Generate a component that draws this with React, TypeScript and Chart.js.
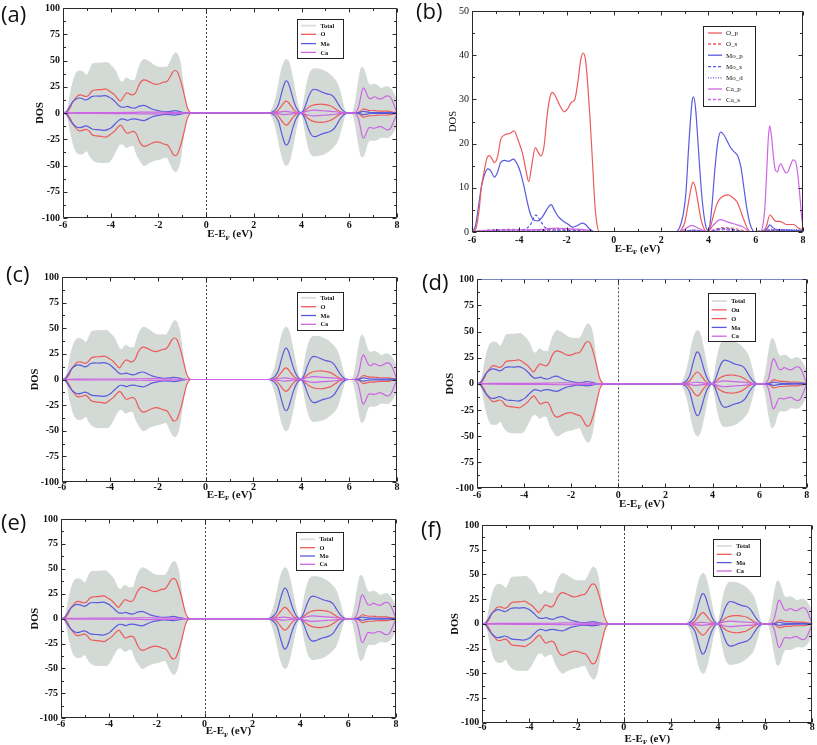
import React, { useEffect, useRef } from 'react';
import { Chart, registerables } from 'chart.js';

Chart.register(...registerables);

type P = [number, number][];

// ---------- axis ticks ----------
const X_TICKS = [-6, -4, -2, 0, 2, 4, 6, 8];
const DOS_Y_TICKS = [-100, -75, -50, -25, 0, 25, 50, 75, 100];
const PDOS_Y_TICKS = [0, 10, 20, 30, 40, 50];

// ---------- DOS panels (a, c, d, e, f) ----------
const TOTAL_UP: P = [[-6,0],[-5.88,0],[-5.8,4],[-5.65,23],[-5.47,37],[-5.3,40],[-5.15,39],[-5.0,36],[-4.88,41],[-4.75,47],[-4.45,47.5],[-4.15,48],[-3.98,45],[-3.8,40],[-3.62,31],[-3.5,29.5],[-3.34,33.5],[-3.15,31],[-3.0,31],[-2.85,41],[-2.75,47],[-2.6,51],[-2.36,48.5],[-2.15,45],[-1.95,43.5],[-1.66,43.5],[-1.5,49],[-1.38,55],[-1.28,57.5],[-1.18,55],[-1.08,46.7],[-0.96,26],[-0.85,8],[-0.72,1],[-0.62,0],
[2.6,0],[2.75,3],[2.95,17],[3.15,40],[3.3,50],[3.38,51],[3.5,46],[3.65,30],[3.8,12],[3.92,2],[3.97,0],[4.05,5],[4.2,25],[4.35,38],[4.5,42],[4.7,42],[4.95,40],[5.15,37.5],[5.35,33],[5.5,28],[5.65,17],[5.78,5],[5.86,0],[6.1,0],[6.25,10],[6.4,32],[6.53,43.5],[6.62,41],[6.75,31],[6.88,26.5],[7.05,27.5],[7.2,26],[7.35,23.5],[7.55,25],[7.7,24],[7.85,19],[8,12]];
const TOTAL_DN: P = [[-6,0],[-5.88,0],[-5.8,-4],[-5.65,-22],[-5.47,-36],[-5.3,-39],[-5.15,-38.5],[-5.0,-36],[-4.88,-41],[-4.74,-45],[-4.46,-47],[-4.1,-47],[-3.98,-44.5],[-3.83,-38],[-3.62,-30],[-3.5,-29.5],[-3.34,-33],[-3.15,-31],[-3.06,-31],[-2.9,-40],[-2.78,-45],[-2.6,-50],[-2.36,-47],[-2.15,-45],[-1.94,-44],[-1.66,-42],[-1.49,-49],[-1.38,-54],[-1.28,-56],[-1.18,-53],[-1.08,-44],[-0.96,-24],[-0.85,-8],[-0.72,-1],[-0.62,0],
[2.6,0],[2.75,-3],[2.95,-17],[3.15,-39],[3.3,-49],[3.38,-50],[3.5,-45],[3.65,-30],[3.8,-12],[3.92,-2],[3.97,0],[4.05,-5],[4.2,-24],[4.35,-37],[4.5,-41],[4.7,-40.5],[4.95,-39],[5.15,-36],[5.35,-32],[5.5,-27],[5.65,-16],[5.78,-5],[5.86,0],[6.1,0],[6.25,-10],[6.4,-31],[6.53,-42],[6.62,-40],[6.75,-30],[6.88,-26],[7.05,-26],[7.2,-25],[7.35,-23],[7.55,-23.5],[7.7,-22.5],[7.85,-18],[8,-11]];

const O_P: P = [[-6,0],[-5.85,0.5],[-5.7,5],[-5.6,10.3],[-5.5,13.3],[-5.38,16.5],[-5.28,17.3],[-5.18,16.8],[-5.05,15.7],[-4.92,17],[-4.78,21],[-4.6,22],[-4.4,22.3],[-4.22,22.9],[-4.05,20.8],[-3.85,17.5],[-3.72,14],[-3.6,11.4],[-3.47,15.2],[-3.32,19.1],[-3.2,18],[-3.08,17.2],[-2.95,19.5],[-2.82,26.5],[-2.7,30.5],[-2.6,31.6],[-2.45,30.5],[-2.3,28.8],[-2.1,27.2],[-1.95,27.9],[-1.8,29.3],[-1.65,30],[-1.52,34],[-1.4,39],[-1.3,40.5],[-1.2,39],[-1.1,33],[-1.0,25],[-0.9,15.5],[-0.8,6],[-0.7,1.3],[-0.6,0],
[2.7,0],[2.85,0.5],[3.0,2.2],[3.15,6.5],[3.27,10],[3.35,11.3],[3.45,10],[3.55,7],[3.7,2.5],[3.85,0.4],[3.95,0],[4.05,0.5],[4.2,3.5],[4.35,6.2],[4.5,7.6],[4.7,8.3],[4.85,8.4],[5.0,7.9],[5.2,6.9],[5.35,5],[5.5,2.7],[5.65,0.8],[5.8,0],[6.25,0],[6.45,1.3],[6.6,3.9],[6.72,3.2],[6.85,2.4],[7.0,2.4],[7.15,2.1],[7.3,1.7],[7.6,1.7],[7.8,0.9],[8,0.5]];
const O_DN: P = [[-6,0],[-5.85,-0.5],[-5.7,-5],[-5.6,-10],[-5.5,-13],[-5.38,-16.3],[-5.28,-17],[-5.18,-16.6],[-5.05,-15.5],[-4.92,-16.8],[-4.78,-20.8],[-4.6,-21.8],[-4.4,-22.3],[-4.22,-23],[-4.05,-21],[-3.85,-17.5],[-3.72,-14],[-3.58,-11.5],[-3.45,-15.5],[-3.3,-19.5],[-3.18,-18.3],[-3.05,-17.5],[-2.92,-20],[-2.8,-27],[-2.68,-31],[-2.58,-31.8],[-2.43,-30.5],[-2.28,-28.8],[-2.05,-27.5],[-1.9,-28.3],[-1.75,-29.8],[-1.62,-30.5],[-1.5,-34.5],[-1.38,-39.5],[-1.3,-40.5],[-1.2,-39],[-1.1,-33],[-1.0,-25],[-0.9,-15.5],[-0.8,-6],[-0.7,-1.3],[-0.6,0],
[2.7,0],[2.85,-0.5],[3.0,-2.3],[3.15,-6.8],[3.27,-10.3],[3.35,-11.5],[3.45,-10.2],[3.55,-7],[3.7,-2.5],[3.85,-0.4],[3.95,0],[4.05,-0.5],[4.2,-3.7],[4.35,-6.5],[4.5,-8],[4.7,-8.8],[4.85,-9],[5.0,-8.4],[5.2,-7.2],[5.35,-5.2],[5.5,-2.8],[5.65,-0.8],[5.8,0],[6.25,0],[6.45,-1.4],[6.6,-4],[6.72,-3.3],[6.85,-2.6],[7.0,-2.6],[7.15,-2.2],[7.3,-1.9],[7.6,-1.9],[7.8,-1],[8,-0.5]];

const MO_UP: P = [[-6,0],[-5.85,1.5],[-5.72,6],[-5.6,10.3],[-5.45,13.3],[-5.33,14.3],[-5.2,13.8],[-5.05,12.4],[-4.92,13.5],[-4.8,15.6],[-4.62,16.2],[-4.45,16],[-4.25,16.5],[-4.08,15.3],[-3.95,13.5],[-3.8,10.3],[-3.65,6.8],[-3.55,5.5],[-3.42,5.6],[-3.3,6.3],[-3.15,5],[-3.0,4.6],[-2.8,6.5],[-2.62,7.3],[-2.45,5.8],[-2.25,3.6],[-2.0,2.2],[-1.75,1.2],[-1.5,1.5],[-1.32,2.2],[-1.15,1.6],[-1.0,0.7],[-0.85,0.1],[-0.75,0],
[2.6,0],[2.78,1],[2.95,4.5],[3.05,9],[3.15,18],[3.25,26],[3.32,30],[3.37,30.6],[3.45,28.3],[3.55,21],[3.65,13],[3.75,6.5],[3.87,1.8],[3.97,0.4],[4.05,1.2],[4.15,6],[4.27,14],[4.4,20.5],[4.52,22.6],[4.65,22],[4.8,20.5],[4.95,19],[5.08,18.2],[5.25,17.1],[5.38,14.5],[5.5,10],[5.62,5.5],[5.75,2],[5.88,0.3],[6.0,0],[6.3,0],[6.48,0.8],[6.6,1.6],[6.72,1],[6.9,0.5],[7.5,0.4],[8,0.3]];
const MO_DN: P = [[-6,0],[-5.85,-1.5],[-5.72,-6],[-5.6,-10],[-5.45,-13],[-5.33,-14],[-5.2,-13.5],[-5.05,-12.3],[-4.92,-13.3],[-4.8,-15],[-4.62,-15.8],[-4.45,-16],[-4.25,-16.5],[-4.08,-15.3],[-3.95,-13.5],[-3.8,-10],[-3.65,-6.8],[-3.55,-5.6],[-3.42,-6],[-3.3,-7],[-3.15,-5.8],[-3.0,-5.5],[-2.8,-6.5],[-2.62,-7.2],[-2.45,-5.8],[-2.25,-3.6],[-2.0,-2.3],[-1.75,-1.3],[-1.5,-1.5],[-1.32,-2],[-1.15,-1.5],[-1.0,-0.7],[-0.85,-0.1],[-0.75,0],
[2.6,0],[2.78,-1],[2.95,-4.5],[3.05,-9],[3.15,-18],[3.25,-26],[3.32,-30],[3.37,-30.5],[3.45,-28.3],[3.55,-21],[3.65,-13],[3.75,-6.5],[3.87,-1.8],[3.97,-0.4],[4.05,-1.2],[4.15,-6],[4.27,-14],[4.4,-20.5],[4.52,-22.5],[4.65,-22],[4.8,-20.5],[4.95,-19.2],[5.08,-18.5],[5.25,-17],[5.38,-14.5],[5.5,-10],[5.62,-5.5],[5.75,-2],[5.88,-0.3],[6.0,0],[6.3,0],[6.48,-0.8],[6.6,-1.6],[6.72,-1],[6.9,-0.5],[7.5,-0.4],[8,-0.3]];

const CA_P: P = [[-6,0],[-5.75,0.2],[-5.3,0.4],[-4.5,0.5],[-3.8,0.5],[-3.0,0.6],[-2.4,0.9],[-1.8,0.7],[-1.2,0.5],[-0.8,0],
[2.7,0],[3.0,0.6],[3.3,1.5],[3.6,0.8],[3.95,0],[4.2,1.5],[4.5,2.8],[4.8,2.3],[5.1,1.8],[5.45,1.2],[5.8,0],[6.2,0],[6.3,1.5],[6.38,5],[6.46,13],[6.53,21],[6.59,24],[6.66,22],[6.75,17],[6.83,14],[6.92,13.6],[7.0,15],[7.06,15.5],[7.15,14.6],[7.25,13.5],[7.33,13.4],[7.45,14.8],[7.58,16.3],[7.68,16],[7.78,13],[7.87,8],[7.95,3],[8,1.3]];
const CA_DN: P = [[-6,0],[-5.75,-0.2],[-5.3,-0.4],[-4.5,-0.5],[-3.8,-0.5],[-3.0,-0.6],[-2.4,-0.9],[-1.8,-0.7],[-1.2,-0.5],[-0.8,0],
[2.7,0],[3.0,-0.6],[3.3,-1.5],[3.6,-0.8],[3.95,0],[4.2,-1.5],[4.5,-2.8],[4.8,-2.3],[5.1,-1.8],[5.45,-1.2],[5.8,0],[6.2,0],[6.3,-1.5],[6.38,-5],[6.46,-13],[6.53,-21],[6.59,-24],[6.66,-22],[6.75,-17],[6.83,-14],[6.92,-14],[7.0,-14.5],[7.06,-14.5],[7.15,-13.8],[7.25,-13],[7.33,-13],[7.45,-14.5],[7.58,-16],[7.68,-15.6],[7.78,-12.5],[7.87,-7.5],[7.95,-3],[8,-1.3]];

// ---------- PDOS panel (b) ----------
const O_S: P = [[-6,0],[-5.6,0.3],[-5.0,0.5],[-4.3,0.6],[-3.5,0.4],[-3.0,0.5],[-2.5,0.8],[-2.0,0.6],[-1.3,0.5],[-0.8,0],[2.7,0],[3.35,0.3],[3.9,0],[4.6,1.0],[5.2,0.7],[5.8,0],[6.5,0.3],[8,0.2]];
const MO_P: P = [[-6,0],[-5.85,1.5],[-5.72,6],[-5.6,10.3],[-5.45,13.3],[-5.33,14.3],[-5.2,13.8],[-5.05,12.4],[-4.92,13.5],[-4.8,15.6],[-4.62,16.2],[-4.45,16],[-4.25,16.5],[-4.08,15.3],[-3.95,13.5],[-3.8,10.3],[-3.65,6.5],[-3.5,3.6],[-3.35,2.6],[-3.2,2.5],[-3.05,3.2],[-2.9,4.5],[-2.75,5.8],[-2.65,6.2],[-2.52,5],[-2.35,3.5],[-2.15,2.5],[-1.95,1.8],[-1.75,1.1],[-1.55,1.4],[-1.35,2],[-1.2,1.7],[-1.05,0.8],[-0.9,0.2],[-0.8,0],
[2.6,0],[2.78,1],[2.95,4.5],[3.05,9],[3.15,18],[3.25,26],[3.32,30],[3.37,30.6],[3.45,28.3],[3.55,21],[3.65,13],[3.75,6.5],[3.87,1.8],[3.97,0.4],[4.05,1.2],[4.15,6],[4.27,14],[4.4,20.5],[4.52,22.6],[4.65,22],[4.8,20.5],[4.95,19],[5.08,18.2],[5.25,17.1],[5.38,14.5],[5.5,10],[5.62,5.5],[5.75,2],[5.88,0.3],[6.0,0],[6.3,0],[6.48,0.8],[6.6,1.6],[6.72,1],[6.9,0.5],[7.5,0.4],[8,0.3]];
const MO_S: P = [[-6,0],[-5.5,0.3],[-4.5,0.5],[-3.8,0.6],[-3.55,1.5],[-3.3,3.8],[-3.1,2.5],[-2.9,1],[-2.5,0.5],[-1.5,0.3],[-0.8,0],[2.7,0],[3.4,0.4],[4.0,0],[4.6,0.8],[5.8,0],[6.6,0.3],[8,0.2]];
const MO_D: P = [[-6,0],[-5,0.3],[-3,0.3],[-0.8,0],[2.7,0],[3.4,0.5],[4,0],[4.6,0.6],[5.8,0],[6.6,0.6],[8,0.5]];
const CA_S: P = [[-6,0],[-5,0.4],[-4.5,0.5],[-3,0.3],[-2,0.6],[-0.8,0],[2.7,0],[4.5,0.5],[5.8,0],[6.6,0.5],[8,0.3]];

// ---------- styles ----------
const RED = '#ee5a5a';
const BLUE = '#5a5ade';
const MAG = '#cc66e4';
const GREY = '#d3d9d4';
const SERIF = '"Liberation Serif", "Times New Roman", serif';

type LegItem = { label: string; color: string; dash?: number[]; w?: number };
const DOS_LEG: LegItem[] = [
  { label: 'Total', color: '#dde2de', w: 2 },
  { label: 'O', color: RED },
  { label: 'Mo', color: BLUE },
  { label: 'Ca', color: MAG },
];
const D_LEG: LegItem[] = [
  { label: 'Total', color: '#dde2de', w: 2 },
  { label: 'Ou', color: RED },
  { label: 'O', color: RED },
  { label: 'Mo', color: BLUE },
  { label: 'Ca', color: MAG },
];
const B_LEG: LegItem[] = [
  { label: 'O_p', color: RED },
  { label: 'O_s', color: RED, dash: [3, 2] },
  { label: 'Mo_p', color: BLUE },
  { label: 'Mo_s', color: BLUE, dash: [3, 2] },
  { label: 'Mo_d', color: BLUE, dash: [1, 1.5] },
  { label: 'Ca_p', color: MAG },
  { label: 'Ca_s', color: MAG, dash: [3, 2] },
];

const toXY = (p: P) => p.map(([x, y]) => ({ x, y }));

function line(data: P, color: string, order: number, dash?: number[]) {
  return {
    data: toXY(data),
    borderColor: color,
    borderWidth: 1.2,
    borderDash: dash || [],
    fill: false,
    pointRadius: 0,
    cubicInterpolationMode: 'monotone',
    order,
  };
}
function area(data: P) {
  return {
    data: toXY(data),
    borderColor: GREY,
    backgroundColor: GREY,
    borderWidth: 1,
    fill: 'origin',
    pointRadius: 0,
    cubicInterpolationMode: 'monotone',
    order: 10,
  };
}

function dosDatasets() {
  return [
    area(TOTAL_UP), area(TOTAL_DN),
    line(O_P, RED, 3), line(O_DN, RED, 3),
    line(MO_UP, BLUE, 2), line(MO_DN, BLUE, 2),
    line(CA_P, MAG, 1), line(CA_DN, MAG, 1),
  ];
}
function pdosDatasets() {
  return [
    line(O_S, RED, 6, [3, 2]),
    line(MO_S, BLUE, 5, [3, 2]),
    line(MO_D, BLUE, 5, [1, 1.5]),
    line(CA_S, MAG, 5, [3, 2]),
    line(MO_P, BLUE, 3),
    line(O_P, RED, 2),
    line(CA_P, MAG, 1),
  ];
}

type PanelCfg = {
  key: string; label: string; labelPos: [number, number];
  canvas: [number, number, number, number]; area: [number, number, number, number];
  kind: 'dos' | 'pdos'; xPad: number; xTitleY: number; yTitleX: number;
  legend: { box: [number, number, number, number]; rows: number[]; items: LegItem[]; s0: number; s1: number; tx: number; font: string };
  topColor?: string;
};

const LF = `bold 6.3px ${SERIF}`;
const PANELS: PanelCfg[] = [
  { key: 'a', label: '(a)', labelPos: [1, 2], canvas: [25, 0, 380, 245], area: [63, 5, 397, 218], kind: 'dos', xPad: 2, xTitleY: 233.5, yTitleX: 40,
    legend: { box: [297, 19, 46, 38.5], rows: [25.7, 34.3, 43.6, 52.4], items: DOS_LEG, s0: 4, s1: 19, tx: 23.5, font: LF } },
  { key: 'b', label: '(b)', labelPos: [416, -1], canvas: [430, 0, 387, 255], area: [472, 11, 803, 232], kind: 'pdos', xPad: 3, xTitleY: 248, yTitleX: 453,
    legend: { box: [703, 26, 52, 80], rows: [33, 44, 55.2, 66.6, 77.8, 89, 99.5], items: B_LEG, s0: 5, s1: 19, tx: 23, font: `7px ${SERIF}` } },
  { key: 'c', label: '(c)', labelPos: [6, 262], canvas: [25, 262, 380, 240], area: [62, 277, 397, 482], kind: 'dos', xPad: 0.6, xTitleY: 494.3, yTitleX: 35,
    legend: { box: [297, 291.7, 46, 37.5], rows: [297.9, 306.7, 315.5, 324.3], items: DOS_LEG, s0: 4, s1: 19, tx: 23.5, font: LF } },
  { key: 'd', label: '(d)', labelPos: [422, 270], canvas: [435, 262, 382, 248], area: [477, 279.3, 806.7, 488.3], kind: 'dos', xPad: 1.7, xTitleY: 503.3, yTitleX: 450,
    legend: { box: [707.7, 293.3, 46.6, 48.4], rows: [301, 309.8, 318.6, 327.4, 336.2], items: D_LEG, s0: 4, s1: 19, tx: 23.5, font: LF }, topColor: '#7b86c8' },
  { key: 'e', label: '(e)', labelPos: [1, 510], canvas: [25, 505, 380, 240], area: [61, 519, 396, 718.3], kind: 'dos', xPad: 0.7, xTitleY: 730.7, yTitleX: 35,
    legend: { box: [296, 532.3, 46.7, 37.7], rows: [539.3, 547.7, 556, 564.3], items: DOS_LEG, s0: 4, s1: 19, tx: 23.5, font: LF } },
  { key: 'f', label: '(f)', labelPos: [421, 517], canvas: [435, 508, 382, 237], area: [482.3, 525, 812.3, 722.7], kind: 'dos', xPad: 0, xTitleY: 738, yTitleX: 455,
    legend: { box: [712.7, 539, 46.6, 37], rows: [546, 554.3, 562.6, 571], items: DOS_LEG, s0: 4, s1: 19, tx: 23.5, font: LF } },
];

function drawXTitle(ctx: CanvasRenderingContext2D, cx: number, cy: number, size: number) {
  const big = `bold ${size}px ${SERIF}`;
  const small = `bold ${Math.round(size * 0.65)}px ${SERIF}`;
  ctx.font = big;
  const w1 = ctx.measureText('E-E').width;
  const w3 = ctx.measureText(' (eV)').width;
  ctx.font = small;
  const w2 = ctx.measureText('F').width;
  let x = cx - (w1 + w2 + w3) / 2;
  const base = cy + size * 0.33;
  ctx.textAlign = 'left';
  ctx.textBaseline = 'alphabetic';
  ctx.fillStyle = '#111';
  ctx.font = big; ctx.fillText('E-E', x, base); x += w1;
  ctx.font = small; ctx.fillText('F', x, base + size * 0.22); x += w2;
  ctx.font = big; ctx.fillText(' (eV)', x, base);
}

function decorPlugin(p: PanelCfg, yTicks: number[]) {
  const ox = p.canvas[0], oy = p.canvas[1];
  return {
    id: 'decor' + p.key,
    beforeDatasetsDraw(chart: any) {
      if (p.kind !== 'dos') return;
      const { ctx, chartArea: a, scales } = chart;
      const x0 = Math.round(scales.x.getPixelForValue(0)) + 0.5;
      ctx.save();
      ctx.strokeStyle = '#444';
      ctx.lineWidth = 1;
      ctx.setLineDash([2, 2]);
      ctx.beginPath(); ctx.moveTo(x0, a.top); ctx.lineTo(x0, a.bottom); ctx.stroke();
      ctx.restore();
    },
    afterDatasetsDraw(chart: any) {
      const { ctx, chartArea: a, scales } = chart;
      const xs = scales.x, ys = scales.y;
      const L = Math.round(a.left) + 0.5, R = Math.round(a.right) - 0.5;
      const T = Math.round(a.top) + 0.5, B = Math.round(a.bottom) - 0.5;
      ctx.save();
      ctx.lineWidth = 1;
      ctx.strokeStyle = '#2a2a2a';
      ctx.beginPath();
      ctx.moveTo(L, T); ctx.lineTo(L, B); ctx.lineTo(R, B); ctx.lineTo(R, T);
      ctx.stroke();
      ctx.strokeStyle = p.topColor || '#2a2a2a';
      ctx.beginPath(); ctx.moveTo(L, T); ctx.lineTo(R, T); ctx.stroke();
      ctx.strokeStyle = '#2a2a2a';
      const tick = (x1: number, y1: number, x2: number, y2: number) => { ctx.moveTo(x1, y1); ctx.lineTo(x2, y2); };
      ctx.beginPath();
      const xMaj = X_TICKS;
      const xAll: [number, number][] = [];
      xMaj.forEach((v, i) => { xAll.push([v, 4]); if (i < xMaj.length - 1) xAll.push([(v + xMaj[i + 1]) / 2, 2.5]); });
      xAll.forEach(([v, len]) => {
        const px = Math.round(xs.getPixelForValue(v)) + 0.5;
        tick(px, B, px, B - len); tick(px, T, px, T + len);
      });
      const yAll: [number, number][] = [];
      yTicks.forEach((v, i) => { yAll.push([v, 4]); if (i < yTicks.length - 1) yAll.push([(v + yTicks[i + 1]) / 2, 2.5]); });
      yAll.forEach(([v, len]) => {
        const py = Math.round(ys.getPixelForValue(v)) + 0.5;
        tick(L, py, L + len, py); tick(R, py, R - len, py);
      });
      ctx.stroke();
      ctx.restore();
    },
    afterDraw(chart: any) {
      const { ctx, chartArea: a } = chart;
      ctx.save();
      // axis titles
      drawXTitle(ctx, (a.left + a.right) / 2, p.xTitleY - oy, 11);
      ctx.translate(p.yTitleX - ox, (a.top + a.bottom) / 2);
      ctx.rotate(-Math.PI / 2);
      ctx.textAlign = 'center';
      ctx.textBaseline = 'middle';
      ctx.fillStyle = '#111';
      ctx.font = p.kind === 'dos' ? `bold 10.5px ${SERIF}` : `10.5px ${SERIF}`;
      ctx.fillText('DOS', 0, 0);
      ctx.restore();
      // legend
      const lg = p.legend;
      const bx = lg.box[0] - ox, by = lg.box[1] - oy;
      ctx.save();
      ctx.fillStyle = '#fff';
      ctx.fillRect(bx, by, lg.box[2], lg.box[3]);
      ctx.strokeStyle = '#222';
      ctx.lineWidth = 1;
      ctx.strokeRect(Math.round(bx) + 0.5, Math.round(by) + 0.5, Math.round(lg.box[2]), Math.round(lg.box[3]));
      lg.items.forEach((it, i) => {
        const y = lg.rows[i] - oy;
        ctx.beginPath();
        ctx.strokeStyle = it.color;
        ctx.lineWidth = it.w || 1.3;
        ctx.setLineDash(it.dash || []);
        ctx.moveTo(bx + lg.s0, y); ctx.lineTo(bx + lg.s1, y);
        ctx.stroke();
        ctx.setLineDash([]);
        ctx.fillStyle = '#111';
        ctx.font = lg.font;
        ctx.textAlign = 'left';
        ctx.textBaseline = 'middle';
        ctx.fillText(it.label, bx + lg.tx, y + 0.5);
      });
      ctx.restore();
    },
  };
}

function Panel({ p }: { p: PanelCfg }) {
  const ref = useRef<HTMLCanvasElement>(null);
  const [cx, cy, cw, ch] = p.canvas;
  useEffect(() => {
    const [L, T, R, B] = p.area;
    const yW = L - cx, padTop = T - cy, padRight = cx + cw - R, xH = cy + ch - B;
    const isB = p.kind === 'pdos';
    const yTicks = isB ? PDOS_Y_TICKS : DOS_Y_TICKS;
    const chart = new Chart(ref.current as HTMLCanvasElement, {
      type: 'line',
      data: { datasets: (isB ? pdosDatasets() : dosDatasets()) as any },
      options: {
        responsive: false,
        animation: false,
        devicePixelRatio: 1,
        layout: { padding: { left: 0, top: padTop, right: padRight, bottom: 0 } },
        plugins: { legend: { display: false }, tooltip: { enabled: false } },
        scales: {
          x: {
            type: 'linear', min: -6, max: 8,
            grid: { display: false, drawTicks: false },
            border: { display: false },
            afterBuildTicks: (s: any) => { s.ticks = X_TICKS.map((v) => ({ value: v })); },
            afterFit: (s: any) => { s.height = xH; },
            ticks: { padding: p.xPad, autoSkip: false, maxRotation: 0, color: '#111',
              font: { family: SERIF, size: 10, weight: 'bold', lineHeight: 1 },
              callback: (v: any) => String(v) },
          },
          y: {
            type: 'linear', min: yTicks[0], max: yTicks[yTicks.length - 1],
            grid: { display: false, drawTicks: false },
            border: { display: false },
            afterBuildTicks: (s: any) => { s.ticks = yTicks.map((v) => ({ value: v })); },
            afterFit: (s: any) => { s.width = yW; },
            ticks: { padding: 3, autoSkip: false, color: '#111',
              font: { family: SERIF, size: 10, weight: isB ? 'normal' : 'bold', lineHeight: 1 },
              callback: (v: any) => String(v) },
          },
        },
      } as any,
      plugins: [decorPlugin(p, yTicks) as any],
    });
    return () => chart.destroy();
  }, []);
  return (
    <>
      <canvas ref={ref} width={cw} height={ch}
        style={{ position: 'absolute', left: cx, top: cy, width: cw, height: ch }} />
      <div style={{ position: 'absolute', left: p.labelPos[0], top: p.labelPos[1], fontFamily: '"Open Sans", sans-serif', fontSize: 22, lineHeight: 1, color: '#111' }}>
        {p.label}
      </div>
    </>
  );
}

export default function App() {
  return (
    <div style={{ position: 'absolute', left: 0, top: 0, width: 817, height: 745, background: '#fff', overflow: 'hidden' }}>
      {PANELS.map((p) => <Panel key={p.key} p={p} />)}
    </div>
  );
}
